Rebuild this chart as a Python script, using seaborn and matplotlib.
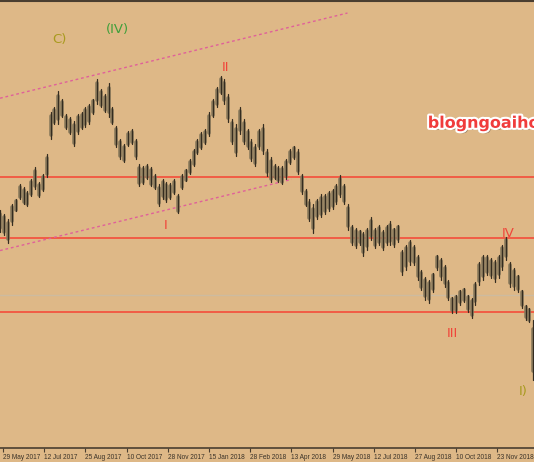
import numpy as np
import pandas as pd
import seaborn as sns
import matplotlib
matplotlib.use("Agg")
import matplotlib.pyplot as plt
import matplotlib.patheffects as pe

# ---- data (trading-day index, price levels on an arbitrary scale) ----
start_day = -2
step_days = 3
highs = [239, 235, 230, 245, 250, 265, 262, 258, 270, 282,
         267, 275, 295, 337, 342, 358, 350, 335, 332, 328,
         335, 337, 342, 345, 350, 370, 360, 355, 366, 342,
         323, 310, 305, 318, 320, 310, 285, 283, 285, 282,
         275, 265, 270, 267, 266, 270, 255, 275, 280, 290,
         300, 310, 317, 320, 337, 350, 362, 373, 370, 355,
         330, 325, 342, 330, 320, 310, 305, 320, 325, 300,
         292, 285, 283, 283, 290, 300, 303, 300, 275, 260,
         250, 245, 250, 255, 255, 258, 260, 265, 274, 265,
         245, 225, 222, 220, 218, 222, 232, 222, 225, 220,
         225, 228, 222, 225, 200, 205, 210, 205, 195, 180,
         173, 170, 177, 195, 192, 185, 170, 153, 155, 160,
         162, 155, 152, 168, 188, 195, 195, 192, 190, 195,
         205, 213, 188, 182, 175, 160, 145, 142, 130]
lows = [218, 215, 207, 225, 238, 250, 245, 243, 253, 260,
        252, 258, 272, 310, 325, 325, 332, 320, 315, 303,
        315, 320, 322, 325, 335, 345, 342, 337, 332, 325,
        302, 290, 287, 303, 305, 290, 263, 265, 270, 263,
        260, 243, 250, 247, 250, 255, 236, 260, 268, 275,
        283, 295, 300, 305, 313, 332, 342, 355, 345, 327,
        305, 293, 315, 305, 300, 288, 283, 300, 295, 273,
        267, 270, 267, 265, 270, 285, 290, 275, 255, 243,
        228, 217, 230, 232, 235, 238, 240, 245, 252, 245,
        220, 205, 202, 205, 194, 200, 210, 202, 205, 200,
        205, 205, 203, 208, 175, 180, 185, 185, 170, 160,
        150, 147, 158, 180, 170, 163, 150, 137, 137, 145,
        148, 138, 132, 145, 165, 170, 175, 172, 168, 172,
        180, 190, 163, 160, 158, 142, 130, 128, 70]

tick_labels = ["29 May 2017", "12 Jul 2017", "25 Aug 2017", "10 Oct 2017",
               "28 Nov 2017", "15 Jan 2018", "28 Feb 2018", "13 Apr 2018",
               "29 May 2018", "12 Jul 2018", "27 Aug 2018", "10 Oct 2018",
               "23 Nov 2018"]
bars_per_label = 32

levels_red = [272, 212, 138]
level_grey = 154.5
channel_days = [-2.3, 267.6]
channel_upper = [351, 436]
channel_lower_days = [-2.3, 224.2]
channel_lower = [199, 270]

wave_labels = [
    ("C)", 44, 410, "#a89a1e"),
    ("(IV)", 89, 420, "#3f9f3a"),
    ("II", 173, 382, "#f0453a"),
    ("I", 126.5, 224, "#f0453a"),
    ("III", 349, 116, "#f0453a"),
    ("IV", 392.6, 216, "#f0453a"),
    ("I)", 404, 58, "#a89a1e"),
]

# ---- build long tables ----
days = start_day + step_days * np.arange(len(highs))
hi = np.array(highs, float)
lo = np.array(lows, float)
rng = hi - lo
body_hi = hi - 0.15 * rng
body_lo = lo + 0.15 * rng

wick = pd.DataFrame({
    "day": np.repeat(days, 2),
    "level": np.column_stack([lo, hi]).ravel(),
    "bar": np.repeat(np.arange(len(days)), 2),
})
body = pd.DataFrame({
    "day": np.repeat(days, 2),
    "level": np.column_stack([body_lo, body_hi]).ravel(),
    "bar": np.repeat(np.arange(len(days)), 2),
})

sns.set_theme(style="white")
plt.rcParams["font.family"] = ["DejaVu Sans"]
BG = "#deb887"

fig = plt.figure(figsize=(5.34, 4.62), dpi=100, facecolor=BG)
ax = fig.add_axes([0, 14 / 462, 1, 1 - 15 / 462])
ax.set_facecolor(BG)

# horizontal levels
for lv in levels_red:
    ax.axhline(lv, color="#f2553f", lw=1.3, zorder=1)
ax.axhline(level_grey, color="#cdbba0", lw=1.0, zorder=1)

# channel lines
ax.plot(channel_days, channel_upper, color="#e0609a", lw=1.0, ls=(0, (2, 2)), zorder=1)
ax.plot(channel_lower_days, channel_lower, color="#e0609a", lw=1.0, ls=(0, (2, 2)), zorder=1)

# candles
sns.lineplot(data=body, x="day", y="level", units="bar", estimator=None, sort=False,
             color="#8a7a5c", lw=2.6, ax=ax, legend=False, zorder=2)
sns.lineplot(data=wick, x="day", y="level", units="bar", estimator=None, sort=False,
             color="#342c20", lw=0.9, ax=ax, legend=False, zorder=3)

# wave labels
for txt, d, lv, col in wave_labels:
    ax.text(d, lv, txt, color=col, fontsize=9.5, ha="center", va="center", zorder=4)

# watermark
ax.text(330, 326, "blogngoaihoi.net", color="#f03c3c", fontsize=11.5, fontweight="bold",
        ha="left", va="center", zorder=5, clip_on=True,
        path_effects=[pe.withSimplePatchShadow(offset=(1.5, -1.5), shadow_rgbFace="#6a5a4a", alpha=0.6),
                      pe.Stroke(linewidth=3, foreground="white"), pe.Normal()])

ax.set_xlim(-2.33, 412.5)
ax.set_ylim(2, 448)
ax.set_xlabel("")
ax.set_ylabel("")
ticks = np.arange(len(tick_labels)) * bars_per_label
ax.set_xticks(ticks)
ax.set_xticklabels(tick_labels, fontsize=4.7, color="#3a3228", ha="left",
                   family=["Liberation Sans", "DejaVu Sans"])
ax.set_yticks([])
ax.tick_params(axis="x", direction="out", length=3, width=0.8, color="#4a3e30", pad=1, bottom=True)
for s in ["left", "right"]:
    ax.spines[s].set_visible(False)
ax.spines["top"].set_color("#4a3e30")
ax.spines["top"].set_linewidth(1.5)
ax.spines["bottom"].set_color("#4a3e30")
ax.spines["bottom"].set_linewidth(1.2)

fig.savefig("out.png", dpi=100, facecolor=BG)
